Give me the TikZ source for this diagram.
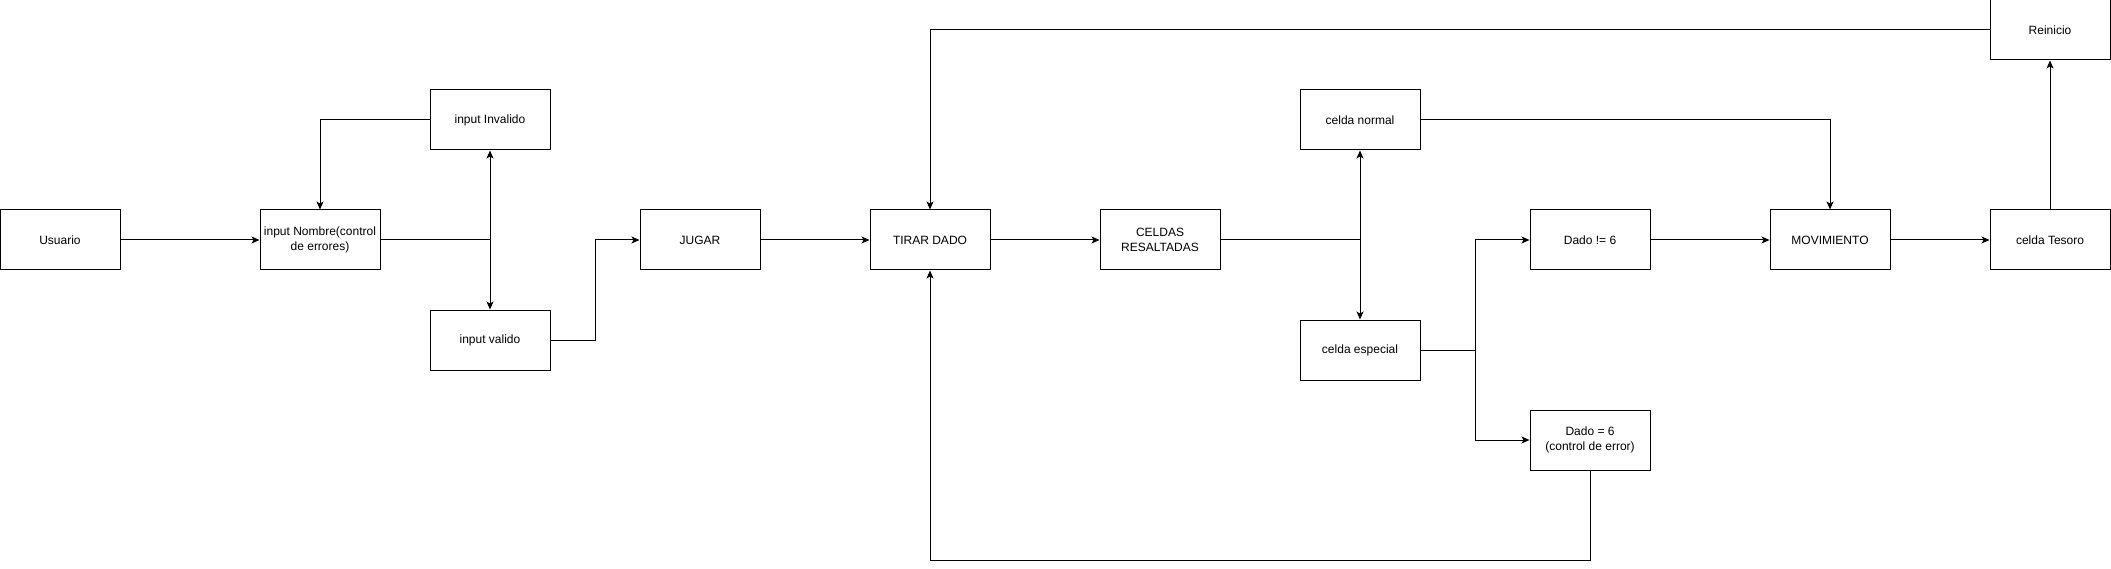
\documentclass[tikz,border=0pt]{standalone}
\usepackage{fontspec}
\setmainfont{Liberation Sans}
\usetikzlibrary{arrows.meta}
\tikzset{
  % boxes of the flow (120 x 60 px)
  blk/.style ={draw, rectangle, minimum width=120pt, minimum height=60pt,
               inner sep=0pt, align=center, line width=1pt,
               font=\fontsize{12}{15}\selectfont},
  arr/.style ={-{Stealth[length=8pt, width=7pt, inset=2pt]}, line width=1pt},
  lin/.style ={line width=1pt},
}
\begin{document}
\begin{tikzpicture}[x=1pt, y=-1pt]
  \useasboundingbox (0,0) rectangle (2111,569);
  % main row
  \node[blk] (usuario)  at (60,240)   {Usuario};
  \node[blk] (nombre)   at (320,240)  {input Nombre(control\\de errores)};
  \node[blk] (invalido) at (490,120)  {input Invalido};
  \node[blk] (valido)   at (490,340)  {input valido};
  \node[blk] (jugar)    at (700,240)  {JUGAR};
  \node[blk] (tirar)    at (930,240)  {TIRAR DADO};
  \node[blk] (celdas)   at (1160,240) {CELDAS\\RESALTADAS};
  \node[blk] (normal)   at (1360,120) {celda normal};
  \node[blk] (especial) at (1360,350) {celda especial};
  \node[blk] (distinto) at (1590,240) {Dado != 6};
  \node[blk] (seis)     at (1590,440) {Dado = 6\\(control de error)};
  \node[blk] (mov)      at (1830,240) {MOVIMIENTO};
  \node[blk] (tesoro)   at (2050,240) {celda Tesoro};
  \node[blk] (reinicio) at (2050,30)  {Reinicio};
  % bends and branch points
  \coordinate (jnom) at (490,240);
  \coordinate (kval) at (595,340);
  \coordinate (jcel) at (1360,240);
  \coordinate (jesp) at (1475,350);
  \coordinate (kbot) at (1590,560);
  % input check
  \draw[arr] (usuario) -- (nombre);
  \draw[lin] (nombre.east) -- (jnom);
  \draw[arr] (jnom) -- (invalido.south);
  \draw[arr] (jnom) -- (valido.north);
  \draw[arr] (invalido.west) -| (nombre.north);
  \draw[arr] (valido.east) -- (kval) |- (jugar.west);
  % game loop
  \draw[arr] (jugar) -- (tirar);
  \draw[arr] (tirar) -- (celdas);
  \draw[lin] (celdas.east) -- (jcel);
  \draw[arr] (jcel) -- (normal.south);
  \draw[arr] (jcel) -- (especial.north);
  \draw[arr] (normal.east) -| (mov.north);
  \draw[lin] (especial.east) -- (jesp);
  \draw[arr] (jesp) |- (distinto.west);
  \draw[arr] (jesp) |- (seis.west);
  \draw[arr] (distinto) -- (mov);
  \draw[arr] (mov) -- (tesoro);
  \draw[arr] (tesoro) -- (reinicio);
  \draw[arr] (reinicio.west) -| (tirar.north);
  \draw[arr] (seis.south) -- (kbot) -| (tirar.south);
\end{tikzpicture}
\end{document}
